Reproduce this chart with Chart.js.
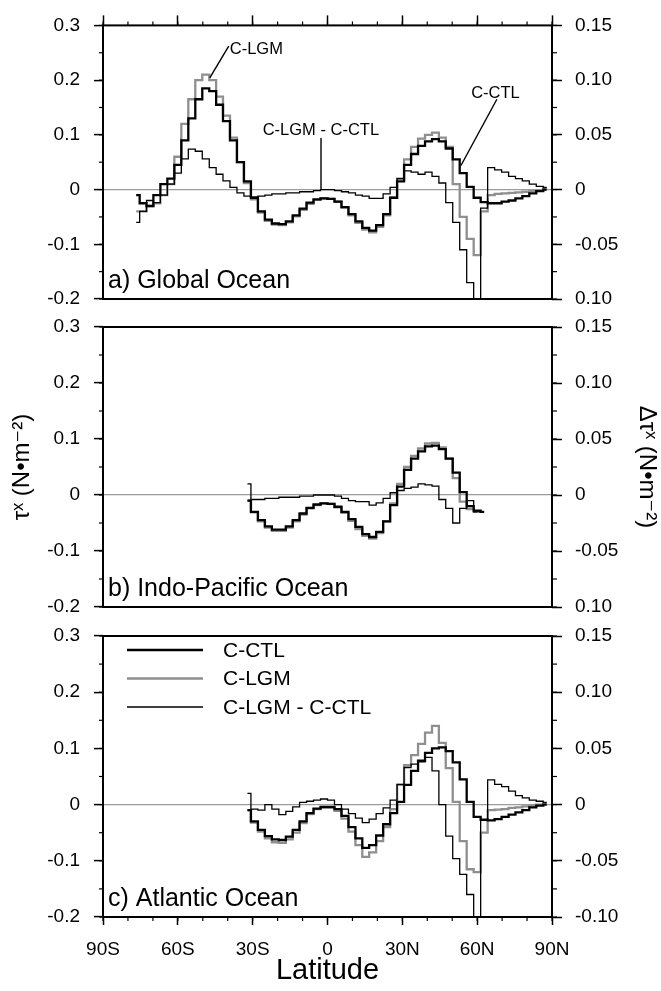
<!DOCTYPE html>
<html>
<head>
<meta charset="utf-8">
<script src="https://cdn.jsdelivr.net/npm/chart.js@4.4.1/dist/chart.umd.min.js"></script>
<style>
  body { margin: 0; background: #fff; }
  #quadro { position: relative; width: 661px; height: 991px; }
  #quadro canvas { position: absolute; left: 0; top: 0; }
</style>
</head>
<body>
<div id="quadro">
  <canvas id="painelA" width="661" height="991"></canvas>
  <canvas id="painelB" width="661" height="991"></canvas>
  <canvas id="painelC" width="661" height="991"></canvas>
</div>
<script>
// Latitudes da grade do modelo (negativo = sul)
const latGrid = [-76.7, -73.9, -71.2, -68.4, -65.6, -62.8, -60.0, -57.2, -54.4, -51.6, -48.8, -46.0, -43.3, -40.5, -37.7, -34.9,
  -32.1, -29.3, -26.5, -23.7, -20.9, -18.1, -15.3, -12.6, -9.8, -7.0, -4.2, -1.4,
  1.4, 4.2, 7.0, 9.8, 12.6, 15.3, 18.1, 20.9, 23.7, 26.5, 29.3, 32.1, 34.9, 37.7, 40.5, 43.3, 46.0, 48.8,
  51.6, 54.4, 57.2, 60.0, 62.8, 65.6, 68.4, 71.2, 74.0, 76.7, 79.5, 82.3, 85.1, 87.9];
// paineis b e c comecam em 32S
const latSul32 = latGrid.slice(16);

const xTickLabels = ['90S', '60S', '30S', '0', '30N', '60N', '90N'];
const leftTickLabels = ['-0.2', '-0.1', '0', '0.1', '0.2', '0.3'];
const rightTickLabelsAB = ['0.10', '-0.05', '0', '0.05', '0.10', '0.15'];
const rightTickLabelsC = ['-0.10', '-0.05', '0', '0.05', '0.10', '0.15'];

// a) Oceano global
const globalCTL = [-0.01, -0.025, -0.03, -0.01, 0.01, 0.02, 0.045, 0.09, 0.13, 0.165, 0.185, 0.18, 0.155, 0.125, 0.09, 0.05,
  0.015, -0.015, -0.04, -0.055, -0.062, -0.063, -0.058, -0.047, -0.035, -0.024, -0.018, -0.016,
  -0.017, -0.022, -0.032, -0.045, -0.058, -0.07, -0.075, -0.065, -0.045, -0.015, 0.015, 0.045, 0.065, 0.08, 0.088, 0.092, 0.088, 0.075,
  0.055, 0.03, 0.005, -0.015, -0.023, -0.025, -0.025, -0.022, -0.02, -0.016, -0.012, -0.007, -0.003, 0.0];
const globalLGM = [-0.04, -0.04, -0.03, -0.025, -0.01, 0.01, 0.06, 0.12, 0.165, 0.2, 0.21, 0.2, 0.17, 0.135, 0.095, 0.05,
  0.012, -0.018, -0.042, -0.057, -0.064, -0.065, -0.06, -0.049, -0.037, -0.026, -0.019, -0.016,
  -0.017, -0.022, -0.033, -0.047, -0.061, -0.073, -0.078, -0.068, -0.047, -0.015, 0.02, 0.055, 0.078, 0.093, 0.1, 0.104, 0.095, 0.078,
  0.01, -0.05, -0.09, -0.12, -0.04, -0.01, -0.008, -0.007, -0.006, -0.005, -0.004, -0.003, -0.001, 0.002];
const globalDiff = [-0.03, -0.02, -0.01, -0.012, -0.005, 0.005, 0.015, 0.028, 0.037, 0.035, 0.028, 0.02, 0.014, 0.008, 0.002, -0.003,
  -0.006, -0.007, -0.006, -0.005, -0.004, -0.004, -0.003, -0.003, -0.002, -0.002, -0.001, 0.0,
  0.0, -0.001, -0.002, -0.003, -0.005, -0.006, -0.008, -0.008, -0.004, 0.002, 0.01, 0.017, 0.016, 0.014, 0.016, 0.012, 0.006, -0.012,
  -0.03, -0.055, -0.085, -0.1, -0.017, 0.02, 0.018, 0.016, 0.012, 0.01, 0.008, 0.005, 0.003, 0.002];

// b) Indo-Pacifico
const indoCTL = [-0.01, -0.03, -0.045, -0.056, -0.062, -0.062, -0.056, -0.045, -0.033, -0.023, -0.017, -0.015,
  -0.016, -0.021, -0.03, -0.043, -0.057, -0.07, -0.075, -0.066, -0.047, -0.018, 0.015, 0.045, 0.065, 0.078, 0.087, 0.088,
  0.082, 0.065, 0.04, 0.005, -0.02, -0.028, -0.03];
const indoLGM = [-0.01, -0.031, -0.047, -0.058, -0.064, -0.064, -0.058, -0.047, -0.035, -0.024, -0.018, -0.015,
  -0.016, -0.022, -0.032, -0.046, -0.061, -0.073, -0.078, -0.068, -0.047, -0.015, 0.02, 0.05, 0.07, 0.083, 0.092, 0.093,
  0.085, 0.065, 0.03, -0.012, -0.025, -0.03];
const indoDiff = [0.01, -0.004, -0.004, -0.003, -0.003, -0.002, -0.002, -0.002, -0.001, -0.001, 0.0, 0.0,
  0.0, -0.001, -0.003, -0.005, -0.006, -0.006, -0.009, -0.007, -0.003, 0.002, 0.004, 0.006, 0.007, 0.01, 0.009, 0.008,
  -0.004, -0.012, -0.025, -0.012, -0.005, -0.015, -0.015];

// c) Atlantico
const atlCTL = [-0.01, -0.03, -0.045, -0.056, -0.062, -0.063, -0.057, -0.045, -0.03, -0.015, -0.007, -0.004,
  -0.004, -0.008, -0.02, -0.04, -0.06, -0.077, -0.072, -0.055, -0.035, -0.015, 0.005, 0.035, 0.06, 0.078, 0.092, 0.1,
  0.102, 0.095, 0.075, 0.045, 0.005, -0.022, -0.027, -0.028, -0.026, -0.022, -0.018, -0.014, -0.01, -0.005, -0.002, 0.0];
const atlLGM = [-0.01, -0.032, -0.048, -0.06, -0.067, -0.068, -0.062, -0.05, -0.033, -0.017, -0.008, -0.006,
  -0.006, -0.011, -0.025, -0.048, -0.072, -0.093, -0.085, -0.065, -0.04, -0.008, 0.035, 0.07, 0.088, 0.108, 0.128, 0.14,
  0.11, 0.065, 0.005, -0.065, -0.115, -0.12, -0.05, -0.01, -0.009, -0.008, -0.006, -0.005, -0.003, -0.002, 0.0, 0.002];
const atlDiff = [0.01, -0.004, -0.005, 0.0, -0.004, -0.009, -0.006, -0.002, 0.002, 0.003, 0.004, 0.005,
  0.004, 0.0, -0.004, -0.008, -0.012, -0.016, -0.013, -0.008, -0.003, 0.004, 0.018, 0.033, 0.036, 0.038, 0.042, 0.03,
  0.0, -0.028, -0.048, -0.062, -0.08, -0.1, -0.014, 0.022, 0.018, 0.016, 0.012, 0.008, 0.006, 0.004, 0.003, 0.002];

const FONTE = "'Liberation Sans', Arial, Helvetica, 'DejaVu Sans', sans-serif";
Chart.defaults.font.family = FONTE;
Chart.defaults.color = '#000';

function pontos(lats, vals) {
  return vals.map((v, i) => ({ x: lats[i], y: v }));
}

// moldura em volta da area do grafico
const molduraPlugin = {
  id: 'moldura',
  afterDraw(chart) {
    const a = chart.chartArea, ctx = chart.ctx;
    ctx.save();
    ctx.strokeStyle = '#000';
    ctx.lineWidth = 2;
    ctx.strokeRect(a.left, a.top, a.right - a.left, a.bottom - a.top);
    ctx.restore();
  }
};

// marcas menores nos eixos (o Chart.js so tem as maiores)
const menoresPlugin = {
  id: 'menores',
  afterDraw(chart, args, opts) {
    const ctx = chart.ctx, a = chart.chartArea;
    ctx.save();
    ctx.strokeStyle = '#000';
    ctx.lineWidth = 1.2;
    (opts.lista || []).forEach(m => {
      const s = chart.scales[m.id];
      const n = Math.round((s.max - s.min) / m.passo);
      for (let k = 0; k <= n; k++) {
        const p = s.getPixelForValue(s.min + k * m.passo);
        ctx.beginPath();
        if (s.position === 'left') { ctx.moveTo(a.left, p); ctx.lineTo(a.left - m.tam, p); }
        else if (s.position === 'right') { ctx.moveTo(a.right, p); ctx.lineTo(a.right + m.tam, p); }
        else if (s.position === 'top') { ctx.moveTo(p, a.top); ctx.lineTo(p, a.top - m.tam); }
        else { ctx.moveTo(p, a.bottom); ctx.lineTo(p, a.bottom + m.tam); }
        ctx.stroke();
      }
    });
    ctx.restore();
  }
};

// rotulo do painel, anotacoes e legenda
const textosPlugin = {
  id: 'textos',
  afterDraw(chart, args, opts) {
    const ctx = chart.ctx, a = chart.chartArea;
    const sx = chart.scales.x, sy = chart.scales.y;
    ctx.save();
    ctx.fillStyle = '#000';
    ctx.textBaseline = 'alphabetic';
    if (opts.painel) {
      ctx.font = '25px ' + FONTE;
      ctx.fillText(opts.painel, a.left + 5, a.bottom - 11);
    }
    (opts.notas || []).forEach(n => {
      ctx.font = '16.5px ' + FONTE;
      ctx.fillText(n.texto, sx.getPixelForValue(n.lat), sy.getPixelForValue(n.val));
      ctx.beginPath();
      ctx.strokeStyle = '#000';
      ctx.lineWidth = 1.4;
      ctx.moveTo(sx.getPixelForValue(n.linha[0][0]), sy.getPixelForValue(n.linha[0][1]));
      ctx.lineTo(sx.getPixelForValue(n.linha[1][0]), sy.getPixelForValue(n.linha[1][1]));
      ctx.stroke();
    });
    if (opts.legenda) {
      chart.data.datasets.forEach((ds, i) => {
        const yy = a.top + 14 + i * 28.5;
        ctx.beginPath();
        ctx.strokeStyle = ds.borderColor;
        ctx.lineWidth = ds.borderWidth;
        ctx.moveTo(a.left + 24, yy);
        ctx.lineTo(a.left + 100, yy);
        ctx.stroke();
        ctx.font = '21px ' + FONTE;
        ctx.textBaseline = 'middle';
        ctx.fillText(ds.label, a.left + 120, yy + 1);
      });
    }
    ctx.restore();
  }
};

function series(lats, ctl, lgm, diff) {
  const comum = { stepped: 'middle', pointRadius: 0, fill: false, xAxisID: 'x' };
  return [
    Object.assign({ label: 'C-CTL', data: pontos(lats, ctl), yAxisID: 'y', borderColor: '#000', borderWidth: 2.3, order: 0 }, comum),
    Object.assign({ label: 'C-LGM', data: pontos(lats, lgm), yAxisID: 'y', borderColor: '#8f8f8f', borderWidth: 2.3, order: 2 }, comum),
    Object.assign({ label: 'C-LGM - C-CTL', data: pontos(lats, diff), yAxisID: 'y2', borderColor: '#000', borderWidth: 1.3, order: 1 }, comum)
  ];
}

function criarPainel(id, cfg) {
  const marcaMaior = { drawOnChartArea: false, tickWidth: 1.5, tickColor: '#000' };
  const scales = {
    x: {
      type: 'linear', min: -90, max: 90, position: 'bottom',
      display: cfg.eixoX,
      border: { display: false },
      grid: Object.assign({ tickLength: 8 }, marcaMaior),
      ticks: {
        stepSize: 30, padding: 13, maxRotation: 0, autoSkip: false,
        font: { size: 19 }, color: '#000',
        callback: (v, i) => xTickLabels[i]
      },
      title: { display: cfg.eixoX, text: 'Latitude', font: { size: 29 }, padding: { top: 0, bottom: 3 } }
    },
    y: {
      position: 'left', min: -0.2, max: 0.3,
      afterFit: s => { s.width = 103; },
      border: { display: false },
      grid: {
        drawOnChartArea: true, tickLength: 9, tickWidth: 1.5, tickColor: '#000', lineWidth: 1.2,
        color: c => (c.tick && Math.abs(c.tick.value) < 1e-9) ? '#9c9c9c' : 'rgba(0,0,0,0)'
      },
      ticks: { stepSize: 0.1, padding: 14, font: { size: 19 }, color: '#000', callback: (v, i) => leftTickLabels[i] },
      title: { display: !!cfg.titulosY, text: 'τˣ (N•m⁻²)', font: { size: 24 }, padding: { top: 8, bottom: 0 } }
    },
    y2: {
      position: 'right', min: -0.1, max: 0.15,
      afterFit: s => { s.width = 109; },
      border: { display: false },
      grid: Object.assign({ tickLength: 10 }, marcaMaior),
      ticks: { stepSize: 0.05, padding: 13, font: { size: 19 }, color: '#000', callback: (v, i) => cfg.rotulosDir[i] },
      title: { display: !!cfg.titulosY, text: 'Δτˣ (N•m⁻²)', font: { size: 24 }, padding: { top: 0, bottom: 0 } }
    }
  };
  if (cfg.eixoX) scales.x.afterFit = s => { s.height = 74; };
  if (cfg.topo) {
    scales.xTopo = {
      type: 'linear', min: -90, max: 90, position: 'top',
      afterFit: s => { s.height = 0; },
      border: { display: false },
      grid: Object.assign({ tickLength: 10 }, marcaMaior),
      ticks: { stepSize: 30, display: false }
    };
  }

  return new Chart(document.getElementById(id), {
    type: 'line',
    data: { datasets: series(cfg.lats, cfg.ctl, cfg.lgm, cfg.diff) },
    options: {
      responsive: false,
      animation: false,
      devicePixelRatio: 1,
      events: [],
      layout: { padding: cfg.padding },
      scales: scales,
      plugins: {
        legend: { display: false },
        tooltip: { enabled: false },
        menores: { lista: cfg.menores },
        textos: { painel: cfg.painel, notas: cfg.notas, legenda: cfg.legenda }
      }
    },
    plugins: [menoresPlugin, molduraPlugin, textosPlugin]
  });
}

const menoresY = [{ id: 'y', passo: 0.05, tam: 4 }, { id: 'y2', passo: 0.025, tam: 5 }];

criarPainel('painelA', {
  lats: latGrid, ctl: globalCTL, lgm: globalLGM, diff: globalDiff,
  padding: { top: 18, bottom: 692, left: 0, right: 0 },
  eixoX: false, topo: true, rotulosDir: rightTickLabelsAB,
  menores: [{ id: 'xTopo', passo: 10, tam: 4 }].concat(menoresY),
  painel: 'a) Global Ocean',
  notas: [
    { texto: 'C-LGM', lat: -39.2, val: 0.247, linha: [[-39.6, 0.262], [-47.2, 0.204]] },
    { texto: 'C-LGM - C-CTL', lat: -26, val: 0.1, linha: [[-2.6, 0.094], [-2.6, 0]] },
    { texto: 'C-CTL', lat: 57.6, val: 0.168, linha: [[67.9, 0.165], [53.5, 0.044]] }
  ]
});

criarPainel('painelB', {
  lats: latSul32, ctl: indoCTL, lgm: indoLGM, diff: indoDiff,
  padding: { top: 327, bottom: 384, left: 0, right: 0 },
  eixoX: false, titulosY: true, rotulosDir: rightTickLabelsAB,
  menores: menoresY,
  painel: 'b) Indo-Pacific Ocean'
});

criarPainel('painelC', {
  lats: latSul32, ctl: atlCTL, lgm: atlLGM, diff: atlDiff,
  padding: { top: 636, bottom: 0, left: 0, right: 0 },
  eixoX: true, rotulosDir: rightTickLabelsC,
  menores: [{ id: 'x', passo: 10, tam: 4 }].concat(menoresY),
  painel: 'c) Atlantic Ocean',
  legenda: true
});
</script>
</body>
</html>
